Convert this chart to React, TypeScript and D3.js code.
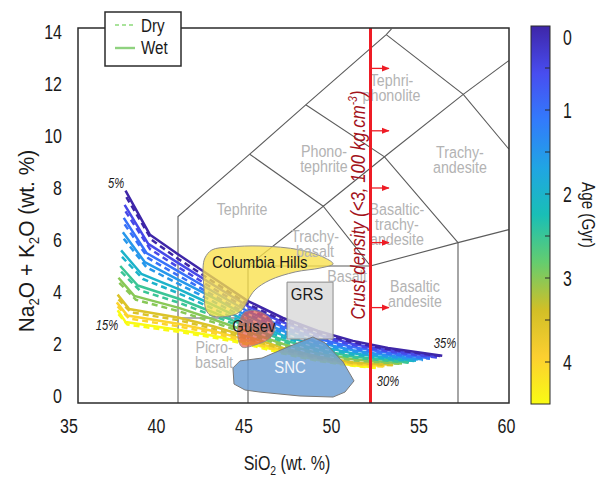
import React from "react";
import * as d3 from "d3";

type Pt = [number, number];

const xTicks = [35, 40, 45, 50, 55, 60];
const yTicks = [0, 2, 4, 6, 8, 10, 12, 14];
const ageTicks = [0, 1, 2, 3, 4];
const ageMinorTicks = [0.5, 1, 1.5, 2, 2.5, 3, 3.5, 4];

// model ages (Gyr), one wet (solid) and one dry (dashed) curve per age
const ages = [0, 0.5, 1, 1.5, 2, 2.5, 3, 3.5, 4, 4.5];
const wetCurves: Pt[][] = [
  [[38.0, 7.9], [39.4, 6.2], [41, 5.45], [43, 4.55], [45, 3.65], [47, 3.0], [49, 2.5], [51, 2.12], [53, 1.85], [56.1, 1.55]],
  [[37.95, 7.35], [39.3, 5.85], [41, 5.12], [43, 4.28], [45, 3.45], [47, 2.83], [49, 2.36], [51, 2.0], [53, 1.76], [55.8, 1.5]],
  [[37.9, 6.85], [39.2, 5.5], [41, 4.8], [43, 4.02], [45, 3.25], [47, 2.66], [49, 2.2], [51, 1.88], [53, 1.66], [55.4, 1.45]],
  [[37.85, 6.3], [39.1, 5.15], [41, 4.48], [43, 3.78], [45, 3.06], [47, 2.5], [49, 2.06], [51, 1.76], [53, 1.56], [55.0, 1.4]],
  [[37.75, 5.6], [38.9, 4.7], [41, 4.12], [43, 3.5], [45, 2.86], [47, 2.33], [49, 1.92], [51, 1.64], [53, 1.46], [54.6, 1.36]],
  [[37.7, 5.0], [38.7, 4.25], [41, 3.75], [43, 3.22], [45, 2.66], [47, 2.16], [49, 1.78], [51, 1.52], [54.2, 1.3]],
  [[37.6, 4.55], [38.5, 3.85], [41, 3.4], [43, 2.95], [45, 2.47], [47, 2.0], [49, 1.65], [51, 1.41], [53.8, 1.25]],
  [[37.55, 3.9], [38.2, 3.35], [41, 3.02], [43, 2.68], [45, 2.28], [47, 1.85], [49, 1.52], [51, 1.3], [53.3, 1.2]],
  [[37.5, 3.6], [38.1, 3.1], [41, 2.78], [43, 2.5], [45, 2.15], [47, 1.75], [49, 1.45], [51, 1.24], [52.8, 1.15]],
  [[37.55, 3.3], [38.0, 2.85], [41, 2.55], [43, 2.32], [45, 2.04], [47, 1.68], [49, 1.38], [51, 1.18], [52.3, 1.1]],
];
const dryCurves: Pt[][] = [
  [[38.05, 7.65], [39.5, 6.0], [41, 5.28], [43, 4.4], [45, 3.53], [47, 2.9], [49, 2.42], [51, 2.06], [53, 1.8], [56.1, 1.53]],
  [[38.0, 7.1], [39.4, 5.65], [41, 4.96], [43, 4.14], [45, 3.34], [47, 2.74], [49, 2.29], [51, 1.95], [53, 1.72], [55.8, 1.48]],
  [[37.95, 6.6], [39.3, 5.3], [41, 4.64], [43, 3.88], [45, 3.14], [47, 2.58], [49, 2.13], [51, 1.83], [53, 1.62], [55.4, 1.43]],
  [[37.9, 6.05], [39.2, 4.95], [41, 4.32], [43, 3.64], [45, 2.95], [47, 2.42], [49, 2.0], [51, 1.71], [53, 1.52], [55.0, 1.38]],
  [[37.8, 5.35], [39.0, 4.5], [41, 3.96], [43, 3.36], [45, 2.75], [47, 2.25], [49, 1.86], [51, 1.59], [53, 1.42], [54.6, 1.34]],
  [[37.75, 4.78], [38.8, 4.07], [41, 3.6], [43, 3.09], [45, 2.56], [47, 2.09], [49, 1.72], [51, 1.48], [54.2, 1.28]],
  [[37.65, 4.35], [38.6, 3.7], [41, 3.27], [43, 2.84], [45, 2.38], [47, 1.93], [49, 1.6], [51, 1.37], [53.8, 1.23]],
  [[37.6, 3.72], [38.3, 3.22], [41, 2.92], [43, 2.59], [45, 2.2], [47, 1.79], [49, 1.47], [51, 1.27], [53.3, 1.18]],
  [[37.55, 3.45], [38.2, 2.98], [41, 2.68], [43, 2.42], [45, 2.08], [47, 1.7], [49, 1.41], [51, 1.21], [52.8, 1.13]],
  [[37.6, 3.15], [38.1, 2.75], [41, 2.47], [43, 2.25], [45, 1.98], [47, 1.63], [49, 1.35], [51, 1.16], [52.3, 1.08]],
];

const parula = ["#3e26a8", "#484df0", "#327bfc", "#20a5e3", "#19bfb6", "#64cd6f", "#d1bf27", "#fccf30", "#f9fb14"];

// TAS field boundaries
const tasLines: Pt[][] = [
  [[41, -0.27], [41, 6.9], [45.1, 9.3], [48.3, 11.2], [52.9, 13.9], [53.2, 14.12]],
  [[41, 3.0], [45, 3.0]],
  [[45, -0.27], [45, 5], [52, 5]],
  [[45, 5], [49.3, 7.3], [52, 5]],
  [[45.1, 9.3], [49.3, 7.3]],
  [[49.3, 7.3], [52.8, 9.2], [57.3, 11.6], [59.9, 12.9]],
  [[48.3, 11.2], [52.8, 9.2], [57, 5.9]],
  [[52, -0.27], [52, 5], [57, 5.9], [59.9, 6.4]],
  [[57, -0.27], [57, 5.9]],
  [[52.9, 13.9], [57.3, 11.6], [59.9, 9.5]],
];

const fieldLabels: { lines: string[]; at: Pt }[] = [
  { lines: ["Tephri-", "phonolite"], at: [53.2, 11.92] },
  { lines: ["Phono-", "tephrite"], at: [49.34, 9.19] },
  { lines: ["Tephrite"], at: [44.66, 6.96] },
  { lines: ["Trachy-", "basalt"], at: [48.83, 5.92] },
  { lines: ["Basalt"], at: [50.66, 4.38] },
  { lines: ["Basaltic-", "trachy-", "andesite"], at: [53.51, 6.96] },
  { lines: ["Basaltic", "andesite"], at: [54.54, 4.0] },
  { lines: ["Trachy-", "andesite"], at: [57.11, 9.15] },
  { lines: ["Picro-", "basalt"], at: [43.06, 1.65] },
];

const columbiaHills: Pt[] = [
  [42.54, 5.31], [42.94, 5.62], [43.97, 5.73], [45.69, 5.77], [47.97, 5.62], [49.4, 5.31], [49.86, 5.08],
  [49.11, 4.92], [47.69, 4.77], [46.26, 4.46], [45.4, 4.08], [45.0, 3.69], [44.71, 3.35], [44.2, 3.12],
  [42.94, 3.08], [42.6, 3.31], [42.49, 4.08], [42.43, 4.92],
];
const grs: Pt[] = [[47.23, 4.38], [49.86, 4.38], [49.86, 2.19], [47.23, 2.19]];
const gusev: Pt[] = [
  [44.83, 3.23], [45.57, 3.27], [46.26, 3.0], [46.54, 2.62], [46.26, 2.23], [45.4, 1.96], [44.66, 1.88],
  [44.43, 2.23], [44.49, 2.85],
];
const snc: Pt[] = [
  [44.14, 1.08], [44.54, 1.35], [45.8, 1.46], [47.4, 1.92], [48.71, 2.27], [49.4, 2.04], [50.43, 1.31],
  [51.06, 0.58], [50.54, 0.15], [49.86, -0.04], [47.97, 0.0], [45.69, 0.15], [44.83, 0.23], [44.2, 0.46],
];

const crustSiO2 = 52;
const arrowLevels = [12.6, 10.2, 8.0, 5.9, 3.4];
const meltLabels: { text: string; at: Pt }[] = [
  { text: "5%", at: [37.46, 8.0] },
  { text: "15%", at: [36.94, 2.54] },
  { text: "35%", at: [56.26, 1.85] },
  { text: "30%", at: [53.0, 0.38] },
];

const FONT = "'Liberation Sans', Arial, Helvetica, sans-serif";

function Txt({ x, y, rot = 0, sx = 0.8, size, anchor = "middle", fill = "#1a1a1a", italic = false, children }: any) {
  return (
    <text
      transform={`translate(${x},${y}) rotate(${rot}) scale(${sx},1)`}
      fontSize={size}
      textAnchor={anchor}
      fill={fill}
      fontStyle={italic ? "italic" : "normal"}
      fontFamily={FONT}
    >
      {children}
    </text>
  );
}

export default function App() {
  const width = 601;
  const height = 479;
  const frame = { left: 78, right: 509, top: 28, bottom: 403 };

  const x = d3.scaleLinear().domain([35, 60]).range([73, 510.5]);
  const y = d3.scaleLinear().domain([0, 14]).range([396, 32]);

  const ageY = d3.scaleLinear().domain([0, 4.5]).range([26, 404]);
  const ageColor = d3
    .scaleLinear<string>()
    .domain(parula.map((_, i) => (i * 4.5) / (parula.length - 1)))
    .range(parula)
    .interpolate(d3.interpolateRgb);

  const line = d3.line<Pt>().x((d) => x(d[0])).y((d) => y(d[1]));
  const blob = d3.line<Pt>().x((d) => x(d[0])).y((d) => y(d[1])).curve(d3.curveCatmullRomClosed.alpha(0.5));
  const poly = d3.line<Pt>().x((d) => x(d[0])).y((d) => y(d[1])).curve(d3.curveLinearClosed);

  const order = d3.range(ages.length).reverse();
  const bar = { x: 531, w: 19 };

  return (
    <svg width={width} height={height} style={{ position: "absolute", left: 0, top: 0, background: "#fff" }}>
      <defs>
        <linearGradient id="parula" x1="0" y1="0" x2="0" y2="1">
          {parula.map((c, i) => (
            <stop key={i} offset={i / (parula.length - 1)} stopColor={c} />
          ))}
        </linearGradient>
        <marker id="arr" viewBox="0 0 10 10" refX="9" refY="5" markerWidth="6" markerHeight="6" orient="auto">
          <path d="M0,1 L10,5 L0,9 Z" fill="#ee1c25" />
        </marker>
      </defs>

      {/* TAS grid */}
      <g fill="none" stroke="#5c5c5c" strokeWidth={1.1}>
        {tasLines.map((l, i) => (
          <path key={i} d={line(l) || ""} />
        ))}
      </g>

      {/* model curves */}
      <g fill="none" strokeWidth={2.5} strokeLinejoin="round">
        {order.map((i) => (
          <g key={i} stroke={ageColor(ages[i])}>
            <path d={line(dryCurves[i]) || ""} strokeDasharray="6 4" />
            <path d={line(wetCurves[i]) || ""} />
          </g>
        ))}
      </g>

      {/* sample fields */}
      <path d={blob(columbiaHills) || ""} fill="#f8e04a" fillOpacity={0.78} stroke="#8c8c8c" strokeWidth={1} />
      <path d={poly(grs) || ""} fill="#dadada" fillOpacity={0.85} stroke="#8c8c8c" strokeWidth={1} />
      <path d={blob(gusev) || ""} fill="#e45a4c" fillOpacity={0.7} stroke="#8c8c8c" strokeWidth={0.8} />
      <path d={poly(snc) || ""} fill="#70a0d3" fillOpacity={0.85} stroke="#7a7a7a" strokeWidth={1} />

      {fieldLabels.map((f, i) =>
        f.lines.map((s, j) => (
          <Txt key={`${i}-${j}`} x={x(f.at[0])} y={y(f.at[1]) + j * 15} size={17} fill="#b3b3b3" sx={0.84}>
            {s}
          </Txt>
        ))
      )}

      <Txt x={x(42.94)} y={y(4.92)} size={17} anchor="start" sx={0.88}>Columbia Hills</Txt>
      <Txt x={x(48.37)} y={y(3.69)} size={17} sx={0.88}>GRS</Txt>
      <Txt x={x(45.34)} y={y(2.46)} size={17} sx={0.88}>Gusev</Txt>
      <Txt x={x(47.4)} y={y(0.88)} size={17} sx={0.88} fill="#f4f6fa">SNC</Txt>

      {/* crust density limit */}
      <line x1={x(crustSiO2)} x2={x(crustSiO2)} y1={frame.top} y2={frame.bottom} stroke="#ee1c25" strokeWidth={3} />
      {arrowLevels.map((v, i) => (
        <line key={i} x1={x(crustSiO2)} x2={x(crustSiO2 + 1.05)} y1={y(v)} y2={y(v)} stroke="#ee1c25" strokeWidth={1.3} markerEnd="url(#arr)" />
      ))}
      <Txt x={x(crustSiO2) - 6} y={205} rot={-90} size={21} sx={0.8} fill="#a3121a" italic>
        Crust density (&lt;3, 100 kg.cm<tspan fontSize={13} dy={-8}>-3</tspan><tspan dy={8}>)</tspan>
      </Txt>

      {meltLabels.map((m, i) => (
        <Txt key={i} x={x(m.at[0])} y={y(m.at[1])} size={14} sx={0.8} italic>
          {m.text}
        </Txt>
      ))}

      {/* frame */}
      <rect x={frame.left} y={frame.top} width={frame.right - frame.left} height={frame.bottom - frame.top} fill="none" stroke="#2b2b2b" strokeWidth={1.5} />

      {/* axis tick labels */}
      {xTicks.map((t) => (
        <Txt key={t} x={x(t) - 4} y={433} size={20}>
          {t}
        </Txt>
      ))}
      {yTicks.map((t) => (
        <Txt key={t} x={62} y={y(t) + 7} size={20} anchor="end">
          {t}
        </Txt>
      ))}

      <Txt x={287} y={470} size={20}>
        SiO<tspan fontSize={13} dy={5}>2</tspan>
        <tspan dy={-5}> (wt. %)</tspan>
      </Txt>
      <Txt x={34} y={241} rot={-90} size={22} sx={0.95}>
        Na<tspan fontSize={14} dy={5}>2</tspan>
        <tspan dy={-5}>O + K</tspan>
        <tspan fontSize={14} dy={5}>2</tspan>
        <tspan dy={-5}>O (wt. %)</tspan>
      </Txt>

      {/* legend */}
      <rect x={105} y={12} width={76} height={54} fill="#fff" stroke="#2b2b2b" strokeWidth={1.5} />
      <line x1={115} x2={135} y1={25} y2={25} stroke="#a9e39b" strokeWidth={2} strokeDasharray="4 3" />
      <line x1={115} x2={135} y1={48} y2={48} stroke="#8fd27f" strokeWidth={2.4} />
      <Txt x={141} y={32} size={19} anchor="start">Dry</Txt>
      <Txt x={141} y={54} size={19} anchor="start">Wet</Txt>

      {/* colorbar */}
      <rect x={bar.x} y={ageY(0)} width={bar.w} height={ageY(4.5) - ageY(0)} fill="url(#parula)" stroke="#2b2b2b" strokeWidth={1} />
      {ageMinorTicks.map((t) => (
        <line key={t} x1={bar.x + bar.w - 5} x2={bar.x + bar.w} y1={ageY(t)} y2={ageY(t)} stroke="#2b2b2b" strokeWidth={1} />
      ))}
      {ageTicks.map((t) => (
        <Txt key={t} x={563} y={Math.max(ageY(t), 37) + 8} size={22} anchor="start" sx={0.72}>
          {t}
        </Txt>
      ))}
      <Txt x={582} y={215} rot={90} size={19}>
        Age (Gyr)
      </Txt>
    </svg>
  );
}
